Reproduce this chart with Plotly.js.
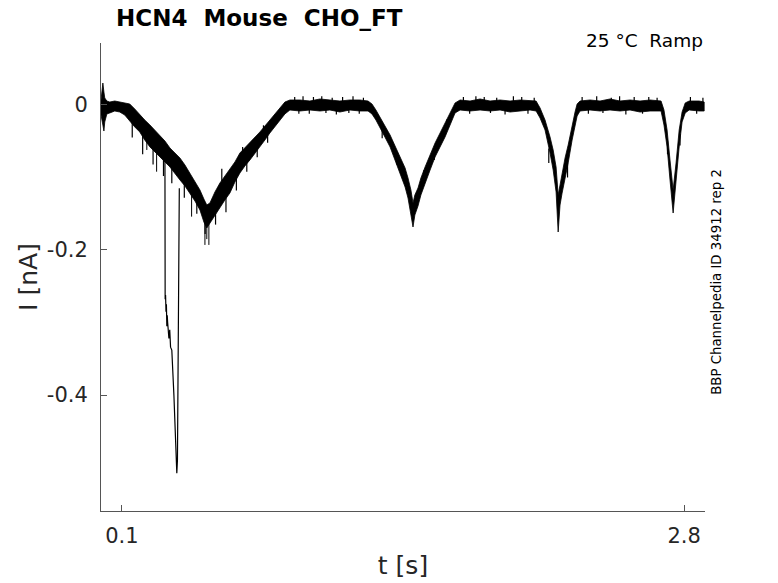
<!DOCTYPE html>
<html>
<head>
<meta charset="utf-8">
<script src="https://cdn.plot.ly/plotly-3.0.1.min.js"></script>
<style>
  html, body { margin: 0; padding: 0; background: #fff; }
  #chart { width: 778px; height: 583px; }
</style>
</head>
<body>
<div id="chart"></div>
<script>
const tEnv = [0.000, 0.004, 0.009, 0.014, 0.018, 0.028, 0.042, 0.066, 0.090, 0.114,
  0.138, 0.162, 0.186, 0.210, 0.235, 0.259, 0.283, 0.307, 0.331, 0.355,
  0.379, 0.403, 0.427, 0.451, 0.475, 0.494, 0.508, 0.523, 0.547, 0.571,
  0.595, 0.619, 0.643, 0.667, 0.691, 0.715, 0.739, 0.763, 0.787, 0.811,
  0.835, 0.859, 0.883, 0.907, 0.955, 1.003, 1.051, 1.099, 1.147, 1.195,
  1.243, 1.282, 1.301, 1.320, 1.339, 1.363, 1.388, 1.412, 1.436, 1.460,
  1.474, 1.488, 1.498, 1.507, 1.522, 1.536, 1.556, 1.580, 1.604, 1.628,
  1.652, 1.676, 1.700, 1.724, 1.772, 1.820, 1.868, 1.916, 1.964, 2.012,
  2.060, 2.089, 2.108, 2.132, 2.156, 2.171, 2.185, 2.195, 2.204, 2.214,
  2.228, 2.243, 2.262, 2.276, 2.286, 2.300, 2.348, 2.396, 2.444, 2.492,
  2.540, 2.588, 2.636, 2.689, 2.703, 2.718, 2.732, 2.747, 2.761, 2.776,
  2.790, 2.805, 2.824, 2.872, 2.896];

const upperEnv = [0.0069, 0.0207, 0.0303, 0.0179, 0.0097, 0.0055, 0.0041, 0.0055, 0.0041, 0.0028,
  0.0014, -0.0055, -0.0138, -0.0207, -0.0276, -0.0345, -0.0414, -0.0497, -0.0593, -0.0662,
  -0.0731, -0.0828, -0.0938, -0.1048, -0.1172, -0.1297, -0.1379, -0.1352, -0.1200, -0.1076,
  -0.0979, -0.0897, -0.0786, -0.0662, -0.0593, -0.0524, -0.0441, -0.0372, -0.0290, -0.0207,
  -0.0110, -0.0028, 0.0041, 0.0069, 0.0069, 0.0055, 0.0083, 0.0069, 0.0055, 0.0069,
  0.0069, 0.0055, 0.0014, -0.0069, -0.0166, -0.0276, -0.0414, -0.0566, -0.0717, -0.0869,
  -0.1007, -0.1172, -0.1352, -0.1241, -0.1145, -0.1007, -0.0855, -0.0690, -0.0524, -0.0386,
  -0.0248, -0.0110, 0.0028, 0.0069, 0.0055, 0.0083, 0.0055, 0.0069, 0.0055, 0.0069,
  0.0055, 0.0055, -0.0041, -0.0207, -0.0441, -0.0621, -0.0855, -0.1241, -0.1103, -0.0938,
  -0.0731, -0.0552, -0.0276, -0.0097, 0.0014, 0.0055, 0.0069, 0.0055, 0.0083, 0.0055,
  0.0069, 0.0055, 0.0069, 0.0055, -0.0069, -0.0345, -0.0759, -0.1172, -0.0800, -0.0345,
  -0.0097, 0.0028, 0.0055, 0.0055, 0.0041];

const lowerEnv = [-0.0138, -0.0207, -0.0276, -0.0359, -0.0234, -0.0124, -0.0110, -0.0083, -0.0097, -0.0138,
  -0.0221, -0.0303, -0.0372, -0.0483, -0.0579, -0.0648, -0.0717, -0.0786, -0.0855, -0.0938,
  -0.1034, -0.1117, -0.1214, -0.1324, -0.1448, -0.1614, -0.1697, -0.1641, -0.1517, -0.1421,
  -0.1310, -0.1214, -0.1062, -0.0938, -0.0841, -0.0759, -0.0662, -0.0579, -0.0483, -0.0386,
  -0.0290, -0.0207, -0.0124, -0.0069, -0.0083, -0.0069, -0.0083, -0.0069, -0.0097, -0.0069,
  -0.0083, -0.0083, -0.0124, -0.0207, -0.0303, -0.0441, -0.0579, -0.0759, -0.0938, -0.1131,
  -0.1283, -0.1490, -0.1683, -0.1517, -0.1393, -0.1241, -0.1076, -0.0897, -0.0717, -0.0579,
  -0.0441, -0.0276, -0.0110, -0.0069, -0.0083, -0.0069, -0.0083, -0.0069, -0.0097, -0.0083,
  -0.0069, -0.0083, -0.0179, -0.0345, -0.0662, -0.0897, -0.1200, -0.1752, -0.1379, -0.1214,
  -0.0993, -0.0800, -0.0483, -0.0276, -0.0152, -0.0083, -0.0069, -0.0083, -0.0069, -0.0083,
  -0.0069, -0.0097, -0.0083, -0.0083, -0.0276, -0.0579, -0.1034, -0.1490, -0.1076, -0.0579,
  -0.0234, -0.0110, -0.0069, -0.0083, -0.0083];

// short noise excursions sticking out of the band: time, start, end
const noiseT = [0.15, 0.20, 0.25, 0.30, 0.34, 0.40, 0.46, 0.50, 0.55, 0.60,
  0.65, 0.70, 0.75, 0.80, 0.58, 0.68, 0.78,
  0.93, 0.95, 0.97, 1.00, 1.02, 1.06, 1.08, 1.11, 1.13, 1.16, 1.19, 1.21, 1.24, 1.26,
  1.35, 1.42, 1.45, 1.55, 1.60, 1.66,
  1.74, 1.77, 1.80, 1.84, 1.87, 1.90, 1.94, 1.98, 2.02, 2.05, 2.08,
  2.15, 2.24,
  2.31, 2.34, 2.38, 2.41, 2.45, 2.49, 2.52, 2.56, 2.60, 2.63, 2.67,
  2.72, 2.78, 2.83, 2.86, 2.89];
const noiseFrom = [-0.020, -0.038, -0.052, -0.068, -0.082, -0.098, -0.118, -0.140, -0.130, -0.116,
  -0.092, -0.070, -0.052, -0.036, -0.105, -0.072, -0.042,
  0.000, 0.000, 0.000, 0.000, 0.000, 0.000, 0.000, 0.000, 0.000, 0.000, 0.000, 0.000, 0.000, 0.000,
  -0.030, -0.065, -0.085, -0.090, -0.060, -0.020,
  0.000, 0.000, 0.000, 0.000, 0.000, 0.000, 0.000, 0.000, 0.000, 0.000, 0.000,
  -0.060, -0.080,
  0.000, 0.000, 0.000, 0.000, 0.000, 0.000, 0.000, 0.000, 0.000, 0.000, 0.000,
  -0.050, -0.040, 0.000, 0.000, 0.000];
const noiseTo = [-0.045, -0.068, -0.082, -0.098, -0.108, -0.128, -0.150, -0.178, -0.165, -0.148,
  -0.118, -0.092, -0.072, -0.052, -0.088, -0.058, -0.028,
  0.011, -0.012, 0.012, -0.012, 0.011, 0.012, -0.011, 0.010, -0.013, 0.011, -0.011, 0.012, -0.012, 0.010,
  -0.046, -0.082, -0.100, -0.106, -0.076, -0.034,
  0.011, -0.012, 0.012, 0.011, -0.011, 0.010, -0.013, 0.012, 0.011, -0.012, 0.010,
  -0.080, -0.100,
  0.011, -0.012, 0.012, -0.011, 0.010, 0.012, -0.013, 0.011, -0.012, 0.011, 0.010,
  -0.068, -0.056, 0.011, -0.012, 0.010];

// single deep spikes near the first trough
const spikeT = [0.220, 0.267, 0.435, 0.499, 0.508, 0.518];
const spikeFrom = [-0.050, -0.060, -0.120, -0.150, -0.160, -0.150];
const spikeTo = [-0.062, -0.092, -0.154, -0.193, -0.185, -0.193];

// the large transient in one sweep
const artT = [0.305, 0.307, 0.308, 0.310, 0.312, 0.314, 0.316, 0.318, 0.320, 0.326,
  0.330, 0.334, 0.340, 0.350, 0.358, 0.364, 0.367, 0.371, 0.374, 0.376];
const artI = [-0.072, -0.078, -0.268, -0.262, -0.285, -0.275, -0.305, -0.290, -0.300, -0.322,
  -0.310, -0.334, -0.338, -0.400, -0.460, -0.508, -0.490, -0.300, -0.122, -0.115];

const xTicks = [0.1, 2.8];
const xTickText = ['0.1', '2.8'];
const yTicks = [-0.4, -0.2, 0];
const yTickText = ['-0.4', '-0.2', '0'];

const font = 'DejaVu Sans, sans-serif';
const sp2 = '\u00a0\u00a0';

function segments(t, from, to) {
  const x = [], y = [];
  t.forEach((v, i) => {
    x.push(v, v, null);
    y.push(from[i], to[i], null);
  });
  return {x, y};
}

const band = {
  x: tEnv.concat(tEnv.slice().reverse()),
  y: upperEnv.concat(lowerEnv.slice().reverse()),
  type: 'scatter',
  mode: 'lines',
  fill: 'toself',
  fillcolor: '#000',
  line: {color: '#000', width: 0.8},
  hoverinfo: 'skip'
};

const noiseSeg = segments(noiseT, noiseFrom, noiseTo);
const noise = {
  x: noiseSeg.x, y: noiseSeg.y,
  type: 'scatter', mode: 'lines',
  line: {color: '#000', width: 1.2},
  connectgaps: false
};

const spikeSeg = segments(spikeT, spikeFrom, spikeTo);
const spikes = {
  x: spikeSeg.x, y: spikeSeg.y,
  type: 'scatter', mode: 'lines',
  line: {color: '#000', width: 1},
  connectgaps: false
};

const artifact = {
  x: artT, y: artI,
  type: 'scatter', mode: 'lines',
  line: {color: '#000', width: 1.2}
};

const layout = {
  width: 778,
  height: 583,
  margin: {l: 101, r: 73, t: 43, b: 72},
  paper_bgcolor: '#fff',
  plot_bgcolor: '#fff',
  showlegend: false,
  font: {family: font, color: '#262626'},
  title: {
    text: '<b>HCN4' + sp2 + 'Mouse' + sp2 + 'CHO_FT</b>',
    font: {family: font, size: 23, color: '#000'},
    xref: 'container', x: 116 / 778, xanchor: 'left',
    yref: 'container', y: 1 - 18 / 583, yanchor: 'middle'
  },
  xaxis: {
    range: [0, 2.9],
    tickvals: xTicks, ticktext: xTickText,
    ticks: 'inside', ticklen: 6, tickcolor: '#555', tickwidth: 1,
    showline: true, linecolor: '#555', linewidth: 1,
    showgrid: false, zeroline: false,
    tickfont: {family: font, size: 21, color: '#262626'},
    ticklabelstandoff: 6,
    title: {text: 't [s]', font: {family: font, size: 25, color: '#262626'}, standoff: 9}
  },
  yaxis: {
    range: [-0.56, 0.0855],
    tickvals: yTicks, ticktext: yTickText,
    ticks: 'inside', ticklen: 6, tickcolor: '#555', tickwidth: 1,
    showline: true, linecolor: '#555', linewidth: 1,
    showgrid: false, zeroline: false,
    tickfont: {family: font, size: 21, color: '#262626'},
    ticklabelstandoff: 8,
    title: {text: 'I [nA]', font: {family: font, size: 25, color: '#262626'}, standoff: 2}
  },
  annotations: [
    {
      text: '25 °C' + sp2 + 'Ramp',
      xref: 'paper', yref: 'paper',
      x: 1, y: 1.006, xanchor: 'right', yanchor: 'middle',
      showarrow: false,
      font: {family: font, size: 18.5, color: '#000'}
    },
    {
      text: 'BBP Channelpedia ID 34912 rep 2',
      xref: 'paper', yref: 'paper',
      x: 1.02, y: 0.49, xanchor: 'center', yanchor: 'middle',
      textangle: -90,
      showarrow: false,
      font: {family: font, size: 13.3, color: '#000'}
    }
  ]
};

Plotly.newPlot('chart', [band, noise, spikes, artifact], layout, {staticPlot: true});
</script>
</body>
</html>
